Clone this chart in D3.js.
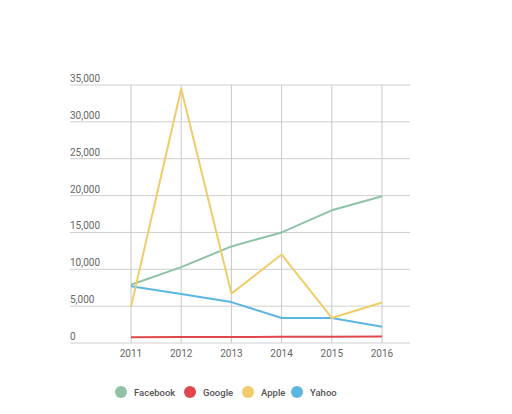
<!DOCTYPE html>
<html><head><meta charset="utf-8">
<script src="https://cdn.jsdelivr.net/npm/d3@7"></script>
<style>
html,body{margin:0;padding:0;background:#fff;}
svg{display:block;font-family:Roboto, "Open Sans", sans-serif;}
</style></head>
<body><svg id="c" width="512" height="414"></svg>
<script>
const years = ["2011","2012","2013","2014","2015","2016"];
const yTicks = [0,5000,10000,15000,20000,25000,30000,35000];
const facebook = [7900, 10300, 13100, 15000, 18000, 19900];
const google = [770, 800, 820, 840, 850, 870];
const apple = [4900, 34500, 6700, 12000, 3400, 5500];
const yahoo = [7700, 6650, 5550, 3400, 3400, 2200];
const seriesNames = ["Facebook","Google","Apple","Yahoo"];
const seriesColors = ["#8ec3a7","#e0474c","#efcd6b","#5bb6e2"];
const seriesData = [facebook, google, apple, yahoo];

const svg = d3.select("#c");
const x = d3.scalePoint().domain(years).range([131, 382]);
const y = d3.scaleLinear().domain([0, 35000]).range([343, 85]);
const gridLeft = 70, gridRight = 410;

// horizontal grid
svg.append("g").selectAll("line").data(yTicks).join("line")
  .attr("x1", gridLeft).attr("x2", gridRight)
  .attr("y1", d => y(d)).attr("y2", d => y(d))
  .attr("stroke", "#cfcfcf").attr("stroke-width", 1);
// vertical grid
svg.append("g").selectAll("line").data(years).join("line")
  .attr("x1", d => x(d)).attr("x2", d => x(d))
  .attr("y1", y(35000)).attr("y2", y(0))
  .attr("stroke", "#c8c8c8").attr("stroke-width", 1);

// y labels
const fmt = d3.format(",");
svg.append("g").selectAll("text").data(yTicks).join("text")
  .attr("x", gridLeft).attr("y", d => y(d) - 3)
  .attr("font-size", 10).attr("fill", "#666")
  .text(d => fmt(d));
// x labels
svg.append("g").selectAll("text").data(years).join("text")
  .attr("x", d => x(d)).attr("y", 357)
  .attr("text-anchor", "middle")
  .attr("font-size", 10).attr("fill", "#666")
  .text(d => d);

// lines
const line = d3.line().x((d, i) => x(years[i])).y(d => y(d));
const order = [0, 3, 1, 2];
order.forEach(i => {
  svg.append("path").datum(seriesData[i])
    .attr("d", line).attr("fill", "none")
    .attr("stroke", seriesColors[i]).attr("stroke-width", 2)
    .attr("stroke-linejoin", "round");
});

// legend
const legX = [121, 190, 248, 297];
const leg = svg.append("g").selectAll("g").data(seriesNames).join("g")
  .attr("transform", (d, i) => `translate(${legX[i]},392)`);
leg.append("circle").attr("r", 6).attr("fill", (d, i) => seriesColors[i]);
leg.append("text").attr("x", 13).attr("y", 3.5)
  .attr("font-size", 9.5).attr("font-weight", 500).attr("fill", "#555")
  .text(d => d);
</script></body></html>
